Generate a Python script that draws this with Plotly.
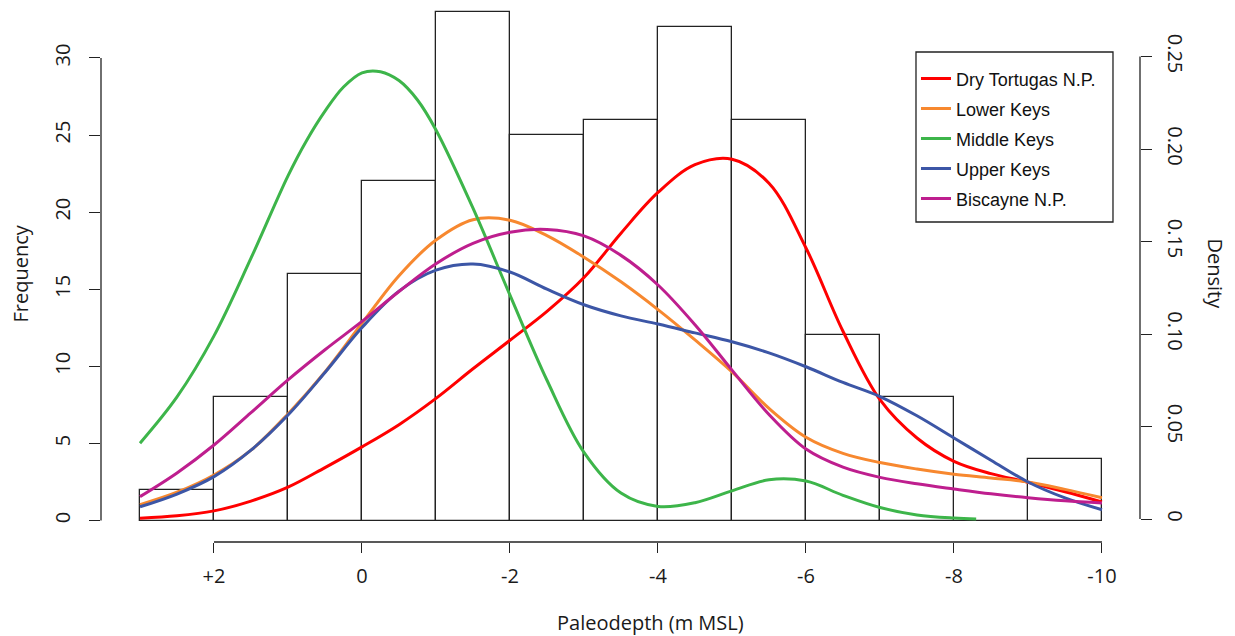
import plotly.graph_objects as go

# Histogram of paleodepths (1 m bins, from +3 down to -10 m MSL)
bin_centers = [2.5, 1.5, 0.5, -0.5, -1.5, -2.5, -3.5, -4.5, -5.5, -6.5, -7.5, -8.5, -9.5]
bin_counts = [2, 8, 16, 22, 33, 25, 26, 32, 26, 12, 8, 0, 4]

# Kernel density estimates per region
dens_x = [3.0, 2.5, 2.0, 1.5, 1.0, 0.5, 0.0, -0.5, -1.0, -1.5, -2.0, -2.5, -3.0, -3.5,
          -4.0, -4.5, -5.0, -5.5, -6.0, -6.5, -7.0, -7.5, -8.0, -8.5, -9.0, -9.5, -10.0]
dry_tortugas = [0.0004, 0.0017, 0.0044, 0.0097, 0.0172, 0.0278, 0.039, 0.051, 0.0652, 0.0812,
                0.0966, 0.1122, 0.1305, 0.1545, 0.1765, 0.1915, 0.1945, 0.1815, 0.1465, 0.1015,
                0.0645, 0.0438, 0.0312, 0.0245, 0.0199, 0.0147, 0.0092]
lower_keys = [0.0078, 0.0145, 0.0238, 0.0372, 0.0568, 0.0795, 0.1058, 0.1315, 0.1508, 0.1618,
              0.1615, 0.1532, 0.1415, 0.1282, 0.1132, 0.0968, 0.0795, 0.0598, 0.0442, 0.0355,
              0.0305, 0.0270, 0.0242, 0.0222, 0.0200, 0.0160, 0.0115]
upper_keys = [0.0066, 0.0135, 0.0229, 0.0372, 0.0562, 0.0792, 0.1035, 0.1232, 0.1345, 0.1378,
              0.1335, 0.1242, 0.1158, 0.1098, 0.1054, 0.1006, 0.0958, 0.0898, 0.0823, 0.0738,
              0.0662, 0.0558, 0.0438, 0.0318, 0.0200, 0.0114, 0.0050]
biscayne = [0.0121, 0.0249, 0.0400, 0.0575, 0.0752, 0.0915, 0.1068, 0.1230, 0.1380, 0.1490,
            0.1550, 0.1565, 0.1530, 0.1425, 0.1265, 0.1050, 0.0805, 0.0565, 0.0378, 0.0280,
            0.0225, 0.0190, 0.0162, 0.0136, 0.0115, 0.0098, 0.0086]
# Middle Keys is sampled more finely around its sharp mode
middle_x = [3.0, 2.5, 2.0, 1.5, 1.0, 0.75, 0.5, 0.25, 0.0, -0.25, -0.5, -0.75, -1.0, -1.5,
            -2.0, -2.5, -3.0, -3.5, -4.0, -4.5, -5.0, -5.5, -6.0, -6.5, -7.0, -7.5, -8.0, -8.3]
middle_keys = [0.041, 0.066, 0.099, 0.141, 0.1855, 0.2045, 0.2205, 0.2335, 0.2412, 0.2418,
               0.2370, 0.2265, 0.2103, 0.168, 0.121, 0.075, 0.036, 0.014, 0.0068, 0.0088,
               0.0152, 0.0212, 0.0205, 0.0128, 0.0062, 0.0022, 0.0005, 0.0]

x_ticks = [2, 0, -2, -4, -6, -8, -10]
x_tick_text = ["+2", "0", "-2", "-4", "-6", "-8", "-10"]
freq_ticks = [0, 5, 10, 15, 20, 25, 30]
dens_ticks = [0, 0.05, 0.10, 0.15, 0.20, 0.25]
dens_tick_text = ["0", "0.05", "0.10", "0.15", "0.20", "0.25"]

series = [
    ("Dry Tortugas N.P.", dens_x, dry_tortugas, "#FF0000"),
    ("Lower Keys", dens_x, lower_keys, "#F7882F"),
    ("Middle Keys", middle_x, middle_keys, "#3DB54A"),
    ("Upper Keys", dens_x, upper_keys, "#3C56A6"),
    ("Biscayne N.P.", dens_x, biscayne, "#BE1E8E"),
]

fig = go.Figure()
fig.add_trace(go.Bar(
    x=bin_centers, y=bin_counts, width=1, yaxis="y",
    marker=dict(color="white", line=dict(color="#222222", width=1.3)),
    showlegend=False, hoverinfo="skip",
))
for i, (name, xs, ys, color) in enumerate(series):
    fig.add_trace(go.Scatter(
        x=xs, y=ys, yaxis="y2", mode="lines", name=name, legendgroup=f"g{i}",
        line=dict(color=color, width=3, shape="spline", smoothing=1.0),
    ))

FONT = "Open Sans"
tick_font = dict(family=FONT, size=20, color="#1a1a1a")
title_font = dict(family=FONT, size=20, color="#1a1a1a")
fig.update_layout(
    width=1235, height=636,
    margin=dict(l=101, r=95, t=5, b=94),
    paper_bgcolor="white", plot_bgcolor="white",
    font=dict(family=FONT, color="#1a1a1a"),
    xaxis=dict(
        range=[3.527, -10.514], showgrid=False, zeroline=False, showline=False,
        tickvals=x_ticks, ticktext=x_tick_text, ticks="outside", ticklen=10,
        tickcolor="#222", tickwidth=1.3, tickfont=tick_font, ticklabelstandoff=6,
    ),
    yaxis=dict(
        range=[-1.3946, 33.437], showgrid=False, zeroline=False, showline=False,
        tickvals=freq_ticks, ticks="outside", ticklen=11, tickcolor="#222", tickwidth=1.3,
        tickangle=-90, tickfont=tick_font, ticklabelstandoff=11,
    ),
    yaxis2=dict(
        range=[-0.01243, 0.27784], overlaying="y", side="right", anchor="x",
        showgrid=False, zeroline=False, showline=False,
        tickvals=dens_ticks, ticktext=dens_tick_text, ticks="outside", ticklen=11,
        tickcolor="#222", tickwidth=1.3, tickangle=90, tickfont=tick_font,
        ticklabelstandoff=8,
    ),
    legend=dict(
        x=0.7844, y=0.897, xanchor="left", yanchor="top",
        borderwidth=0, bgcolor="rgba(0,0,0,0)",
        font=dict(family="Liberation Sans", size=18, color="#111"),
        tracegroupgap=3.6, itemwidth=30,
    ),
    bargap=0,
)

# R-style axis lines spanning only the tick range
fig.add_shape(type="line", xref="paper", yref="y", x0=0, x1=0, y0=0, y1=30,
              line=dict(color="#222", width=1.3))
fig.add_shape(type="line", xref="paper", yref="y2", x0=1, x1=1, y0=0, y1=0.25,
              line=dict(color="#222", width=1.3))
fig.add_shape(type="line", xref="x", yref="paper", x0=2, x1=-10, y0=0, y1=0,
              line=dict(color="#222", width=1.3))
# legend frame
fig.add_shape(type="rect", xref="paper", yref="paper",
              x0=0.7844, x1=0.9740, y0=0.5959, y1=0.9125,
              line=dict(color="#222", width=1.3), fillcolor="rgba(0,0,0,0)")

fig.add_annotation(text="Paleodepth (m MSL)", xref="paper", yref="paper", x=0.529, y=0,
                   yshift=-80, xanchor="center", yanchor="middle", showarrow=False,
                   font=title_font)
fig.add_annotation(text="Frequency", xref="paper", yref="paper", x=0, y=0.5,
                   xshift=-81, xanchor="center", yanchor="middle", showarrow=False,
                   textangle=-90, font=title_font)
fig.add_annotation(text="Density", xref="paper", yref="paper", x=1, y=0.5,
                   xshift=75, xanchor="center", yanchor="middle", showarrow=False,
                   textangle=90, font=title_font)

fig.write_html("out.html")
